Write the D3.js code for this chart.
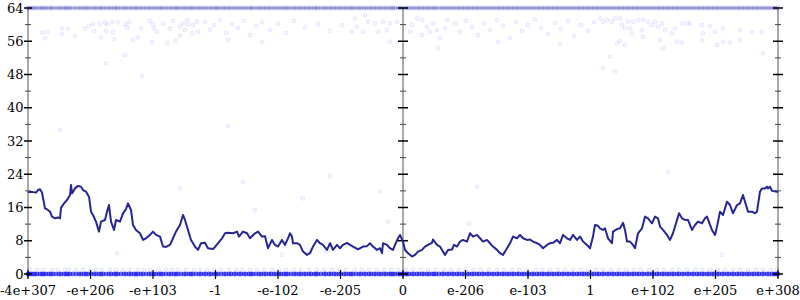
<!DOCTYPE html>
<html>
<head>
<meta charset="utf-8">
<script src="https://cdn.jsdelivr.net/npm/d3@7"></script>
<style>
  body { margin: 0; background: #fff; }
  svg { display: block; font-family: "DejaVu Serif", serif; font-size: 13px; }
</style>
</head>
<body>
<svg id="chart" width="800" height="300"></svg>
<script>
// x is a bin index along the ordered axis (0..750), y is the count value
const xTickBins = [0, 62.5, 125, 187.5, 250, 312.5, 375, 437.5, 500, 562.5, 625, 687.5, 750]
const xTickLabels = ["-4e+307", "-e+206", "-e+103", "-1", "-e-102", "-e-205", "0", "e-206", "e-103", "1", "e+102", "e+205", "e+308"]
const yMajorTicks = [0, 8, 16, 24, 32, 40, 48, 56, 64]
const yMinorTicks = [4, 12, 20, 28, 36, 44, 52, 60]
const axisBins = [0, 375, 750]

const lineBins = [0,5,8,10,12,14,17,20,22,24,27,30,32,33,36,39,42,43,44,47,50,53,55,58,61,63,65,68,71,73,77,79,81,83,86,88,92,95,98,100,103,105,108,112,115,118,122,125,128,132,135,138,142,145,148,152,155,157,160,163,167,170,173,177,180,185,188,194,197,200,205,209,211,215,219,222,227,230,234,237,240,244,247,250,254,257,260,262,264,265,269,272,275,279,282,285,289,292,295,299,302,305,309,312,315,319,322,325,330,335,339,342,345,349,352,354,355,359,362,365,367,370,372,375,377,380,384,387,390,394,397,400,404,405,409,412,414,417,420,424,426,429,432,435,439,442,445,449,452,455,459,462,465,469,472,475,479,482,485,489,492,495,499,502,505,509,512,515,519,522,525,529,532,535,539,542,545,549,552,555,559,562,565,567,570,572,575,577,580,584,585,589,592,595,597,599,602,605,607,610,614,617,620,624,627,630,632,635,639,642,645,649,651,654,657,660,664,667,670,674,677,679,682,684,687,689,692,695,699,702,705,709,712,715,717,720,724,727,729,732,734,737,739,740,742,744,749,750]
const lineValues = [19.7,19.7,19.6,20.2,20.4,19.6,15.8,15.4,15.0,13.8,13.4,13.6,13.4,15.9,17.0,17.8,19.0,21.4,19.4,20.6,21.2,21.0,20.2,19.8,18.6,15.0,14.2,12.6,10.2,12.6,13.0,15.0,16.6,12.6,10.6,13.0,12.6,14.6,15.6,17.0,15.4,11.8,10.6,9.8,8.2,8.6,9.4,10.2,9.4,9.0,6.6,6.5,7.0,8.6,10.2,11.8,14.2,13.0,10.6,8.2,6.6,5.8,7.4,7.5,6.2,6.0,6.8,8.6,9.8,9.9,9.8,10.2,9.0,10.2,9.8,8.6,9.8,10.2,9.0,9.1,6.2,8.2,7.0,6.6,8.2,7.0,8.6,9.8,9.0,7.4,7.4,7.0,5.4,4.6,5.0,6.6,8.2,7.4,7.0,5.8,7.4,5.8,7.0,6.2,7.0,7.5,7.0,6.6,5.9,6.6,6.7,7.4,6.6,5.8,6.2,5.0,7.4,7.0,6.2,5.8,7.0,8.6,9.4,7.8,5.8,5.0,4.2,4.6,5.4,5.8,6.6,7.0,7.5,8.3,7.0,6.6,5.8,4.6,5.8,5.9,7.0,6.6,7.8,8.2,7.8,9.8,9.0,9.4,8.6,7.8,8.2,7.4,6.6,5.8,5.0,4.6,6.2,7.4,9.0,8.6,9.4,8.6,8.2,8.3,7.8,7.4,7.0,6.2,7.0,7.4,7.5,8.2,7.4,9.4,8.6,8.2,9.4,8.2,9.0,7.8,7.0,6.2,9.0,11.8,11.6,11.0,10.6,11.0,8.6,7.4,10.2,10.8,11.0,12.3,10.6,7.8,7.8,7.0,6.2,9.8,11.0,13.8,13.4,12.2,13.8,13.4,11.4,10.6,9.4,8.2,9.8,13.0,14.6,13.4,13.0,13.0,10.6,11.8,12.6,12.2,13.4,13.8,11.8,10.6,9.4,11.4,15.0,14.2,17.4,16.6,14.6,16.6,17.0,19.0,17.4,15.0,15.0,14.6,15.0,19.8,20.6,20.6,21.0,20.6,21.0,20.0,19.8,19.8]

// rows of points that sit on the same level across the whole axis
const edgeBins = [0,1,3,5,7,9,12,14,16,18,21,23,25,28,31,33,36,38,40,42,45,48,51,53,56,58,60,63,66,68,71,73,75,78,81,83,86,88,90,93,96,98,101,103,106,108,110,113,115,118,121,123,126,128,131,133,135,138,141,143,146,148,150,153,156,158,161,163,165,168,171,173,176,178,181,183,186,188,190,193,196,198,201,203,206,208,211,213,216,218,221,223,225,228,231,233,236,238,241,243,246,248,251,253,256,258,260,263,266,268,271,273,276,278,281,283,286,288,290,293,296,298,301,303,306,308,311,313,316,318,321,323,325,328,331,333,336,338,341,343,346,348,351,353,356,358,361,363,365,367,370,372,374,377,379,381,384,386,389,391,394,396,399,401,404,406,408,411,414,416,419,421,424,426,429,431,434,436,439,441,444,446,449,451,454,456,459,461,464,466,469,471,474,476,479,481,484,486,489,491,494,496,499,501,504,506,509,511,514,516,519,521,524,526,529,531,534,536,539,541,544,546,549,551,554,556,559,561,564,566,569,571,574,576,579,581,584,586,589,591,594,596,599,601,604,606,609,611,614,616,619,621,624,626,629,631,634,636,639,641,644,646,649,651,654,656,659,661,664,666,669,671,674,676,679,681,684,686,689,691,694,696,699,701,704,706,709,711,714,716,719,721,724,726,729,731,734,736,739,741,744,746,748,750]
const lowRowBins = [2,9,15,24,30,37,41,48,55,63,68,74,82,88,95,101,110,116,122,131,138,144,150,158,166,172,179,186,193,201,208,214,222,229,236,244,251,258,266,273,281,289,296,304,311,318,327,334,341,349,356,363,370,378,385,393,400,408,416,423,431,438,446,453,461,469,476,484,491,499,507,514,522,530,537,545,553,560,568,575,583,591,598,606,613,621,629,636,644,651,659,667,674,682,690,697,705,712,720,728,735,743,749]
const rowLevels = [0, 64, 1]
const rowHits = [10, 2, 1]

// scattered single points [bin, value]
const scatterPts = [
  [14,58.1],[19,58.3],[17,56.7],[34,59.1],[34,57.7],[40,59.0],[47,57.3],[57,59.0],[61,59.7],[65,60.1],[72,60.1],[66,58.5],[73,56.9],[77,60.5],[79,60.1],[84,60.6],[78,58.5],[85,58.2],[86,56.5],[90,60.5],[97,60.1],[101,60.6],[99,59.3],[105,56.3],[110,56.9],[113,59.1],[122,60.9],[125,60.1],[126,59.1],[124,55.8],[129,58.3],[135,60.3],[139,55.5],[142,59.0],[145,60.9],[152,59.5],[155,60.3],[157,58.7],[159,61.1],[160,60.1],[164,57.9],[165,59.9],[169,60.7],[170,58.3],[148,56.1],[152,57.3],[97,52.7],[78,50.7],[114,47.6],
  [177,60.6],[182,58.7],[186,59.9],[192,61.1],[198,58.0],[204,60.2],[210,59.2],[216,60.9],[222,57.5],[228,59.7],[234,60.6],[242,58.7],[250,60.2],[258,58.0],[266,60.9],[277,59.4],[290,60.2],[302,58.5],[314,59.9],[200,56.3],[234,55.8],
  [324,58.3],[327,61.5],[329,59.5],[335,58.3],[337,62.3],[340,60.7],[347,60.3],[350,58.3],[355,60.7],[359,58.7],[362,60.3],[362,55.9],[369,60.7],[382,58.3],[384,59.9],[389,61.5],[394,61.1],[394,57.5],[399,59.5],[402,58.3],[405,60.3],[409,58.7],[412,56.7],[417,59.1],[419,61.1],[410,54.3],
  [427,60.2],[432,58.2],[438,60.9],[444,59.4],[450,57.5],[456,60.4],[462,58.7],[469,61.1],[475,59.7],[482,56.8],[488,60.6],[494,58.5],[500,59.9],[507,61.3],[513,59.2],[520,57.7],[527,60.4],[533,59.0],[540,60.9],[546,57.3],[553,59.9],[560,58.5],[566,60.6],[470,55.8],[532,55.3],
  [572,61.5],[575,60.7],[579,61.1],[584,60.7],[587,61.5],[592,61.5],[594,59.9],[597,59.1],[602,59.1],[604,57.9],[600,60.7],[605,60.7],[610,61.1],[615,61.1],[614,58.7],[615,57.1],[620,60.7],[624,59.9],[627,60.7],[630,59.5],[634,60.3],[637,58.7],[644,57.9],[647,59.1],[654,60.3],[659,60.3],[662,60.3],[674,59.9],[682,59.7],[675,57.9],[687,58.3],[695,59.1],[712,58.7],[724,58.1],[734,58.2],[592,56.1],[597,55.1],[589,55.5],[632,56.3],[635,54.3],[649,55.9],[654,55.7],[674,56.3],[689,55.1],[695,55.9],[702,55.7],[712,56.3],[735,53.1],[582,52.3],[575,49.5],[587,48.7],
  [640,24.6],[302,23.6],[215,22.2],[449,21.0],[152,20.6],[352,19.8],[275,18.2],[227,15.4],[360,12.6],[441,12.2],[299,5.4],[89,5.0],[254,4.6],[694,4.6],[200,35.6],[32,34.6]
]

const svg = d3.select("#chart")
const x = d3.scaleLinear().domain([0, 750]).range([28, 778])
const y = d3.scaleLinear().domain([0, 64]).range([274, 8])

const ptFill = 0.04
const ptStroke = 0.08

// frame lines
svg.append("line")
  .attr("x1", x(0)).attr("x2", x(750))
  .attr("y1", y(64)).attr("y2", y(64))
  .attr("stroke", "#aaa").attr("stroke-width", 1.5)
svg.append("line")
  .attr("x1", x(0)).attr("x2", x(750))
  .attr("y1", y(0)).attr("y2", y(0))
  .attr("stroke", "#aaa").attr("stroke-width", 1.5)
svg.selectAll(".vaxis")
  .data(axisBins)
  .enter().append("line")
    .attr("x1", d => x(d)).attr("x2", d => x(d))
    .attr("y1", y(64)).attr("y2", y(0) + 4)
    .attr("stroke", "#aaa").attr("stroke-width", 2)

// points
const pts = svg.append("g")
rowLevels.forEach((lvl, r) => {
  const bins = r === 2 ? lowRowBins : edgeBins
  const h = rowHits[r]
  pts.selectAll(null)
    .data(bins)
    .enter().append("circle")
      .attr("cx", d => x(d))
      .attr("cy", y(lvl))
      .attr("r", 2)
      .attr("fill", "blue")
      .attr("fill-opacity", 1 - Math.pow(1 - ptFill, h))
      .attr("stroke", "blue")
      .attr("stroke-opacity", 1 - Math.pow(1 - ptStroke, h))
})
pts.selectAll(null)
  .data(scatterPts)
  .enter().append("circle")
    .attr("cx", d => x(d[0]))
    .attr("cy", d => y(d[1]))
    .attr("r", 2)
    .attr("fill", "blue")
    .attr("fill-opacity", ptFill)
    .attr("stroke", "blue")
    .attr("stroke-opacity", ptStroke)

// ticks on the vertical axes
axisBins.forEach((b, i) => {
  const cx = x(b)
  const major = i === 0 ? 4 : 5
  svg.selectAll(null)
    .data(yMajorTicks)
    .enter().append("line")
      .attr("x1", cx - major).attr("x2", cx + major)
      .attr("y1", d => y(d)).attr("y2", d => y(d))
      .attr("stroke", "#000").attr("stroke-width", 1.5)
  svg.selectAll(null)
    .data(yMinorTicks)
    .enter().append("line")
      .attr("x1", cx - 3).attr("x2", cx + 3)
      .attr("y1", d => y(d)).attr("y2", d => y(d))
      .attr("stroke", "#444").attr("stroke-width", 1)
})

// x ticks
svg.selectAll(".xtick")
  .data(xTickBins)
  .enter().append("line")
    .attr("x1", d => x(d)).attr("x2", d => x(d))
    .attr("y1", y(0) - 4).attr("y2", y(0) + 5)
    .attr("stroke", "#000").attr("stroke-width", 1.2)

// the line
const line = d3.line()
  .x((d, i) => x(lineBins[i]))
  .y(d => y(d))
svg.append("path")
  .datum(lineValues)
  .attr("d", line)
  .attr("fill", "none")
  .attr("stroke", "#262690")
  .attr("stroke-width", 2)
  .attr("stroke-linejoin", "round")

// labels
svg.selectAll(".ylab")
  .data(yMajorTicks)
  .enter().append("text")
    .attr("x", 23.5)
    .attr("y", d => y(d))
    .attr("dy", "0.36em")
    .attr("text-anchor", "end")
    .text(d => d)

svg.selectAll(".xlab")
  .data(xTickBins)
  .enter().append("text")
    .attr("x", d => x(d))
    .attr("y", 295)
    .attr("text-anchor", "middle")
    .text((d, i) => xTickLabels[i])
</script>
</body>
</html>
